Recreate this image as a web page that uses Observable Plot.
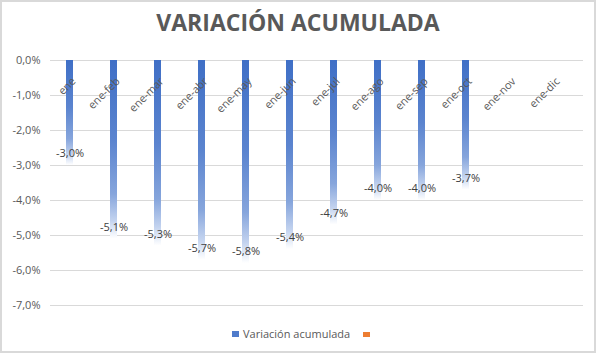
<!DOCTYPE html>
<html>
<head>
<meta charset="utf-8">
<script src="https://cdn.jsdelivr.net/npm/d3@7"></script>
<script src="https://cdn.jsdelivr.net/npm/@observablehq/plot@0.6"></script>
<style>
  html, body { margin: 0; padding: 0; background: #fff; }
  #wrap { position: relative; width: 600px; height: 355px; font-family: "Open Sans", sans-serif; }
  #frame { position: absolute; left: 0; top: 0; width: 592px; height: 349px; border: 2px solid #d9d9d9; }
  #title { position: absolute; left: 0; width: 596px; top: 6px; text-align: center; font-size: 23px; font-weight: 700; color: #595959; letter-spacing: 0px; }
  #plot { position: absolute; left: 0; top: 0; }
  .leg { position: absolute; font-size: 11px; color: #595959; }
  .sw { position: absolute; }
</style>
</head>
<body>
<div id="wrap">
  <div id="frame"></div>
  <div id="plot"></div>
  <div id="title">VARIACIÓN ACUMULADA</div>
  <div class="sw" style="left:232px;top:331px;width:7px;height:6px;background:#4f7bcb;"></div>
  <div class="leg" style="left:243px;top:326px;">Variación acumulada</div>
  <div class="sw" style="left:363px;top:332px;width:7px;height:5px;background:#ed7d31;"></div>
</div>
<script>
const categories = ["ene", "ene-feb", "ene-mar", "ene-abr", "ene-may", "ene-jun", "ene-jul", "ene-ago", "ene-sep", "ene-oct", "ene-nov", "ene-dic"];
const values = [-3.0, -5.1, -5.3, -5.7, -5.8, -5.4, -4.7, -4.0, -4.0, -3.7, null, null];
const yTicks = [0, -1, -2, -3, -4, -5, -6, -7];

const data = categories.map((c, i) => ({cat: c, v: values[i]}));
const barsData = data.filter(d => d.v != null);
const fmt = v => v.toFixed(1).replace(".", ",") + "%";

const chart = Plot.plot({
  width: 600,
  height: 355,
  marginTop: 60,
  marginBottom: 50,
  marginLeft: 45,
  marginRight: 22,
  style: {fontFamily: "'Open Sans', sans-serif", fontSize: "11px", color: "#595959", background: "transparent"},
  x: {domain: categories, paddingInner: 0.84, paddingOuter: 0.42, axis: null},
  y: {domain: [-7, 0], ticks: yTicks, tickFormat: fmt, tickSize: 0, tickPadding: 5, label: null},
  marks: [
    Plot.ruleY(yTicks, {stroke: "#d9d9d9", strokeWidth: 1, dx: 5}),
    Plot.barY(barsData, {x: "cat", y: "v", fill: "url(#barGrad)"}),
    Plot.text(categories, {x: d => d, y: () => 0, text: d => d, rotate: -45, textAnchor: "end", dx: 4, dy: 19, fill: "#595959", fontSize: 11}),
    Plot.text(barsData, {x: "cat", y: "v", text: d => fmt(d.v), dy: -12, fill: "#404040", fontSize: 11})
  ]
});

const ns = "http://www.w3.org/2000/svg";
const defs = document.createElementNS(ns, "defs");
defs.innerHTML = `<linearGradient id="barGrad" x1="0" y1="0" x2="0" y2="1">
  <stop offset="0" stop-color="#3f6fc6"/>
  <stop offset="0.45" stop-color="#5b84cf"/>
  <stop offset="0.75" stop-color="#86a5dc"/>
  <stop offset="0.9" stop-color="#c3d3ef"/>
  <stop offset="1" stop-color="#ffffff"/>
</linearGradient>`;
chart.insertBefore(defs, chart.firstChild);
document.getElementById("plot").appendChild(chart);
</script>
</body>
</html>
